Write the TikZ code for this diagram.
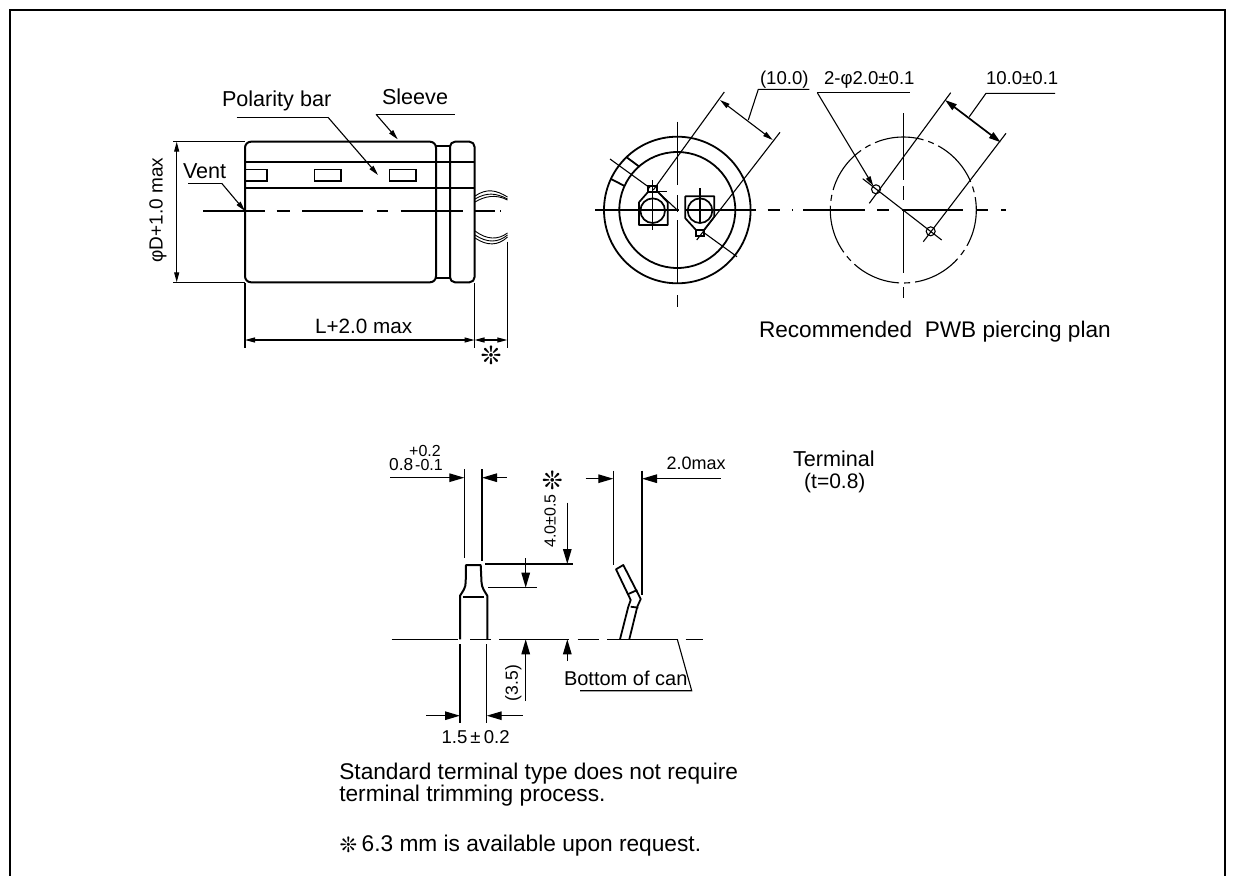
\documentclass[tikz,border=0pt]{standalone}
\usepackage{fontspec}
\setmainfont{Liberation Sans}
\newfontfamily\symf{DejaVu Sans}
\usetikzlibrary{arrows.meta}
\newcommand{\fbig}{\fontsize{21.6pt}{22pt}\selectfont}
\newcommand{\fmid}{\fontsize{18.6pt}{20pt}\selectfont}
\newcommand{\fnote}{\fontsize{22.7pt}{23pt}\selectfont}
\newcommand{\stars}{{\symf ❊}}
\tikzset{
  x=1pt,y=-1pt,
  thinline/.style={line width=1.1pt,black},
  thickline/.style={line width=2pt,black,line join=round},
  dimarrow/.style={line width=1.1pt,-{Triangle[length=10pt,width=5pt]}},
  dimboth/.style={line width=1.1pt,{Triangle[length=10pt,width=5pt]}-{Triangle[length=10pt,width=5pt]}},
  bigarrow/.style={line width=1.3pt,-{Triangle[length=15pt,width=8.5pt]}},
  txt/.style={anchor=base west,inner sep=0pt,outer sep=0pt,font=\fbig},
  mtxt/.style={anchor=base west,inner sep=0pt,outer sep=0pt,font=\fmid},
  rot/.style={anchor=center,inner sep=0pt,outer sep=0pt,rotate=90},
}
\begin{document}
\begin{tikzpicture}
\useasboundingbox (0,0) rectangle (1233,875);
% frame
\draw[line width=2.4pt] (10,876) -- (10,10) -- (1225,10) -- (1225,876);
%%%%%%%%%% side view
\draw[thickline,rounded corners=6pt] (245,141.7) rectangle (436,282.3);
\draw[thickline,rounded corners=5pt] (450,141.7) rectangle (474.5,282.3);
\draw[thickline] (436,146) -- (450,146) (436,278) -- (450,278);
\draw[thickline,line width=1.7pt] (245,161.7) -- (474.5,161.7) (245,188.3) -- (474.5,188.3);
\draw[line width=1.6pt] (245,169.3) -- (266.7,169.3) -- (266.7,181) -- (245,181);
\draw[line width=1.6pt] (314.3,169.3) rectangle (340.7,181);
\draw[line width=1.6pt] (389.3,169.3) rectangle (416,181);
\draw[thinline] (203.3,211) -- (265,211) (276.7,211) -- (290,211) (302.3,211) -- (363.3,211)
  (376.7,211) -- (388.3,211) (400.7,211) -- (463.3,211) (475,211) -- (495,211) (500.2,211) -- (501.2,211);
% leads
\draw[line width=.9pt] (475,196) .. controls (487,188) and (496,190) .. (507.5,197);
\draw[line width=.9pt] (475,199) .. controls (487,192) and (496,193) .. (507.5,199);
\draw[line width=.9pt] (475,202) .. controls (485,196) and (496,194) .. (507.5,200);
\draw[line width=.9pt] (475,231) .. controls (487,240) and (498,240) .. (507.5,233);
\draw[line width=.9pt] (475,235) .. controls (487,243) and (498,243) .. (507.5,235);
\draw[line width=.9pt] (475,238) .. controls (487,246) and (498,246) .. (507.5,237);
% dims side
\draw[thinline] (173,141.7) -- (245,141.7) (173,282.3) -- (245,282.3);
\draw[dimboth] (176.7,141.7) -- (176.7,282.3);
\node[rot,font=\fontsize{19pt}{20pt}\selectfont] (phid) at (158,210) {φD+1.0 max};
\node[txt] (vent) at (183,178) {Vent};
\coordinate (ventu) at (188,183.3);
\draw[thinline] (ventu) -- (221.7,183.3);
\draw[dimarrow] (221.7,183.3) -- (245,211);
\node[txt] (pol) at (222,106.5) {Polarity bar};
\draw[thinline] (236.7,117.3) -- (328,117.3);
\draw[dimarrow] (328,117.3) -- (378,175);
\node[txt] (sleeve) at (382,104) {Sleeve};
\draw[thinline] (376,114.3) -- (455,114.3);
\draw[dimarrow] (376,114.3) -- (397.7,139.3);
\draw[thinline] (245,283) -- (245,348) (474.5,283) -- (474.5,348) (507.3,241.7) -- (507.3,348);
\draw[dimboth] (245,340) -- (474.5,340);
\draw[dimboth] (474.5,340) -- (507.3,340);
\node[txt,font=\fontsize{20.7pt}{22pt}\selectfont] (lmax) at (315,333) {L+2.0 max};
\node[anchor=center,inner sep=0pt,font=\fontsize{25pt}{26pt}\selectfont] (st1) at (491,355) {\stars};
%%%%%%%%%% end view
\draw[line width=1.8pt] (677.3,210) circle[radius=73.3];
\draw[line width=1.8pt] (677.3,210) circle[radius=58];
\draw[thinline] (677.3,121.7) -- (677.3,185) (677.3,195) -- (677.3,211.7) (677.3,220) -- (677.3,283) (677.3,295) -- (677.3,306.7);
\draw[thinline] (595,210) -- (679,210) (685,210) -- (755.7,210) (767.7,210) -- (780,210) (792.2,210) -- (793.2,210);
\draw[thinline] (610,159) -- (650,188) (658,192) -- (678,210.7) (703,232) -- (737,256.7);
\draw[line width=1.8pt] (626.7,157.3) -- (639.3,166.7) (611,179) -- (624,185.7);
\draw[line width=1.7pt] (652.7,210.7) circle[radius=12.3];
\draw[line width=1.7pt] (700,210.7) circle[radius=12.3];
\draw[line width=1.7pt,line join=round] (639,202.3) -- (639,225) -- (667.7,225) -- (667.7,202.3) -- (658,192) -- (648,192) -- cycle;
\draw[line width=1.7pt] (648.3,185.7) rectangle (657.3,192);
\draw[line width=1.7pt,line join=round] (685.3,196.3) -- (714.3,196.3) -- (714.3,216.7) -- (704,230) -- (696,230) -- (685.3,218.3) -- cycle;
\draw[line width=1.7pt] (696,230) rectangle (704.3,235.7);
\draw[thinline] (652.7,180) -- (652.7,230) (648,191.7) -- (667,191.7) (700,188) -- (700,223);
\draw[thinline] (653.3,190) -- (724.3,92) (696.7,240) -- (780,132.3);
\draw[dimboth] (720,100) -- (772.7,140);
\draw[thinline] (748.3,120) -- (758.3,89.3) -- (809.3,89.3);
\node[mtxt] (d100) at (760,84) {(10.0)};
%%%%%%%%%% piercing plan
\draw[thinline,dash pattern=on 49.4pt off 5pt on 6pt off 5pt,dash phase=12pt] (903.3,210) circle[radius=73];
\draw[thinline] (903.3,113) -- (903.3,180) (903.3,186) -- (903.3,200) (903.3,211) -- (903.3,273) (903.3,287) -- (903.3,298);
\draw[thinline] (803,210) -- (865,210) (877,210) -- (889,210) (902,210) -- (963,210) (977,210) -- (988,210) (1001,210) -- (1006,210);
\draw[thinline] (862.7,178.7) -- (941.7,240);
\draw[thinline] (876,189.3) circle[radius=4.5] (930.7,231.3) circle[radius=4.5];
\draw[thinline] (869.3,203.3) -- (950.7,92.7) (923.3,241.7) -- (1006,133.3);
\draw[line width=1.7pt,{Triangle[length=12pt,width=7pt]}-{Triangle[length=12pt,width=7pt]}] (945,100) -- (1000.7,142.3);
\draw[thinline] (969.3,116.7) -- (986,93.3) -- (1055,93.3);
\node[mtxt] (d10) at (986,84) {10.0±0.1};
\draw[thinline] (817.3,92.7) -- (910,92.7);
\draw[dimarrow] (817.3,92.7) -- (873.3,186);
\node[mtxt] (d2) at (824,84) {2-φ2.0±0.1};
\node[txt,font=\fontsize{22.6pt}{24pt}\selectfont] (plan) at (759,337) {Recommended\ \ PWB piercing plan};
%%%%%%%%%% terminal front
\draw[thinline] (391.7,639.3) -- (458.3,639.3) (470,639.3) -- (491,639.3) (499.3,639.3) -- (569,639.3)
 (577.7,639.3) -- (599,639.3) (607.3,639.3) -- (677.7,639.3) (685.7,639.3) -- (702.7,639.3);
\draw[thickline] (460,639.3) -- (460,595.7) .. controls (463,591) and (465.7,588) .. (465.7,582) -- (466,565) -- (480.7,565) -- (481.5,582) .. controls (481.7,588) and (484.5,591) .. (487.3,595.7) -- (487.3,639.3);
\draw[thickline] (462.7,596.7) -- (484,596.7);
\draw[thinline] (464.3,469.3) -- (464.3,558.3) (482,469.3) -- (482,561);
\draw[bigarrow] (390,477.7) -- (464.3,477.7);
\draw[bigarrow] (506.7,477.7) -- (482,477.7);
\node[anchor=base west,inner sep=0pt,font=\fontsize{17.3pt}{18pt}\selectfont] (a) at (389,470) {0.8};
\node[anchor=base west,inner sep=0pt,font=\fontsize{16pt}{17pt}\selectfont] (b) at (409,456) {+0.2};
\node[anchor=base west,inner sep=0pt,font=\fontsize{16pt}{17pt}\selectfont] (c) at (415,470) {-0.1};
\draw[thinline] (460,644) -- (460,722.7) (486.7,644) -- (486.7,722.7);
\draw[bigarrow] (426,715.7) -- (460,715.7);
\draw[bigarrow] (522.7,715.7) -- (486.7,715.7);
\node[mtxt] (d15) at (441.5,743.3) {1.5\,±\,0.2};
\draw[thinline] (485.3,564) -- (572.7,564) (488.3,587.7) -- (536.7,587.7);
\draw[bigarrow] (525.7,558.3) -- (525.7,587.7);
\draw[bigarrow] (525.7,701) -- (525.7,639.3);
\draw[bigarrow] (567.3,502.7) -- (567.3,564);
\draw[bigarrow] (567.3,661) -- (567.3,639.3);
\node[rot,font=\fontsize{16pt}{17pt}\selectfont] (d4) at (550,520.8) {4.0±0.5};
\node[anchor=center,inner sep=0pt,font=\fontsize{25pt}{26pt}\selectfont] (st2) at (552.3,480) {\stars};
\node[rot,font=\fontsize{17.5pt}{18pt}\selectfont] (d35) at (513.3,683) {(3.5)};
%%%%%%%%%% terminal side
\draw[thinline] (613.3,470.7) -- (613.3,565) (642,470.7) -- (642,595);
\draw[bigarrow] (585.7,478.7) -- (613.3,478.7);
\draw[bigarrow] (720.7,478.7) -- (642,478.7);
\node[mtxt,font=\fontsize{18pt}{19pt}\selectfont] (d20) at (666.7,469.3) {2.0max};
\draw[line width=1.8pt,line join=round] (620,639.3) -- (628.3,606.7) -- (630.7,600) -- (616,569.3) -- (623.3,565) -- (640.7,599) -- (637.3,606.7) -- (629.3,639.3);
\draw[line width=1.8pt] (628.3,594) -- (637.3,590) (630.7,606.7) -- (638.3,607.7);
\node[mtxt,font=\fontsize{20pt}{22pt}\selectfont] (can) at (564,685) {Bottom of can};
\draw[thinline] (580,690.7) -- (691.7,690.7) -- (677.3,639.3);
%%%%%%%%%% terminal label
\node[txt] (term) at (793,466.7) {Terminal};
\node[anchor=base west,inner sep=0pt,font=\fontsize{21pt}{22pt}\selectfont] (tt) at (804,488) {(t=0.8)};
%%%%%%%%%% notes
\node[txt,font=\fnote] (n1) at (339.3,779) {Standard terminal type does not require};
\node[txt,font=\fnote] (n2) at (339.3,801) {terminal trimming process.};
\node[anchor=center,inner sep=0pt,font=\fontsize{21pt}{22pt}\selectfont] (st3) at (348.5,844.5) {\stars};
\node[txt,font=\fnote] (n3) at (361.7,851.7) {6.3 mm is available upon request.};
\end{tikzpicture}
\end{document}
